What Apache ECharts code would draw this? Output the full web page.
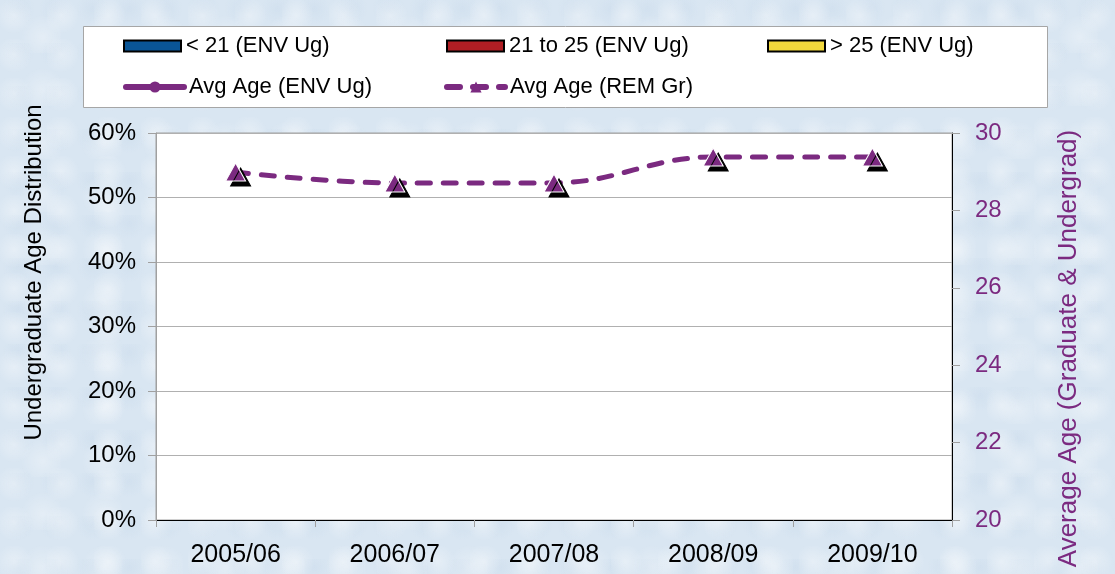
<!DOCTYPE html>
<html>
<head>
<meta charset="utf-8">
<title>Age Distribution</title>
<script src="https://cdn.jsdelivr.net/npm/echarts@6/dist/echarts.min.js"></script>
<style>
  html, body { margin: 0; padding: 0; }
  #chart {
    width: 1115px;
    height: 574px;
    background-color: #d9e6f2;
    background-image:
      radial-gradient(circle at 30% 40%, rgba(255,255,255,0.35) 0, rgba(255,255,255,0) 18px),
      radial-gradient(circle at 70% 70%, rgba(255,255,255,0.3) 0, rgba(255,255,255,0) 22px),
      radial-gradient(circle at 50% 20%, rgba(190,210,230,0.25) 0, rgba(190,210,230,0) 16px);
    background-size: 47px 39px, 61px 53px, 37px 43px;
  }
</style>
</head>
<body>
<div id="chart"></div>
<script>
  // data
  var years = ['2005/06', '2006/07', '2007/08', '2008/09', '2009/10'];
  var under21 = [null, null, null, null, null];     // < 21 (ENV Ug) - nothing drawn
  var from21to25 = [null, null, null, null, null];  // 21 to 25 (ENV Ug)
  var over25 = [null, null, null, null, null];      // > 25 (ENV Ug)
  var avgEnvUg = [null, null, null, null, null];    // Avg Age (ENV Ug)
  var avgRemGr = [28.99, 28.71, 28.71, 29.38, 29.38]; // Avg Age (REM Gr)

  var purple = '#7b2a80';
  var font = 'Liberation Sans, Arial, sans-serif';

  function barSeries(name, color, data) {
    return {
      name: name,
      type: 'bar',
      yAxisIndex: 0,
      data: data,
      itemStyle: { color: color, borderColor: '#000', borderWidth: 1 }
    };
  }

  // one legend per item so the columns line up like the original
  function legendAt(name, left, top, w, h, isLine) {
    var lg = {
      data: [name],
      left: left,
      top: top,
      padding: 0,
      itemWidth: w,
      itemHeight: h,
      textStyle: { fontFamily: font, fontSize: 22, color: '#000' },
      selectedMode: false
    };
    if (isLine) {
      lg.lineStyle = { width: 6, cap: 'round' };
      lg.itemStyle = { shadowColor: 'rgba(0,0,0,0)', borderWidth: 0 };
    } else {
      lg.icon = 'rect';
    }
    return lg;
  }

  var option = {
    animation: false,
    textStyle: { fontFamily: font },
    graphic: [{
      type: 'rect',
      shape: { x: 83.5, y: 26.5, width: 964, height: 81 },
      style: { fill: '#fff', stroke: '#a6a6a6', lineWidth: 1 },
      z: -1
    }],
    legend: [
      legendAt('< 21 (ENV Ug)', 123, 35, 57, 11, false),
      legendAt('21 to 25 (ENV Ug)', 446, 35, 57, 11, false),
      legendAt('> 25 (ENV Ug)', 767, 35, 57, 11, false),
      legendAt('Avg Age (ENV Ug)', 123, 76, 58, 14, true),
      legendAt('Avg Age (REM Gr)', 444, 76, 58, 14, true)
    ],
    grid: {
      left: 156,
      right: 163,
      top: 133,
      bottom: 54,
      show: true,
      backgroundColor: '#fff',
      borderColor: '#a0a0a0',
      borderWidth: 1
    },
    xAxis: {
      type: 'category',
      data: years,
      axisLine: { lineStyle: { color: '#000', width: 1 } },
      axisTick: { show: true, length: 7, lineStyle: { color: '#a0a0a0' } },
      axisLabel: { color: '#000', fontSize: 25, margin: 23, fontFamily: font }
    },
    yAxis: [
      {
        type: 'value',
        min: 0,
        max: 0.6,
        interval: 0.1,
        name: 'Undergraduate Age Distribution',
        nameLocation: 'middle',
        nameGap: 110,
        nameTextStyle: { color: '#000', fontSize: 24, fontFamily: font, padding: [0, 0, 0, 108] },
        axisLine: { show: true, lineStyle: { color: '#a0a0a0' } },
        axisTick: { show: true, length: 8, lineStyle: { color: '#a0a0a0' } },
        axisLabel: {
          color: '#000',
          fontSize: 24,
          margin: 20,
          fontFamily: font,
          formatter: function (v) { return Math.round(v * 100) + '%'; }
        },
        splitLine: { show: true, lineStyle: { color: '#b0b0b0', width: 1 } }
      },
      {
        type: 'value',
        min: 20,
        max: 30,
        interval: 2,
        position: 'right',
        name: 'Average Age (Graduate & Undergrad)',
        nameLocation: 'middle',
        nameGap: 104,
        nameRotate: 90,
        nameTextStyle: { color: purple, fontSize: 26, fontFamily: font, padding: [0, 44, 0, 0] },
        axisLine: { show: true, lineStyle: { color: '#000' } },
        axisTick: { show: true, length: 8, lineStyle: { color: '#a0a0a0' } },
        axisLabel: { color: purple, fontSize: 24, margin: 23, fontFamily: font },
        splitLine: { show: false }
      }
    ],
    series: [
      barSeries('< 21 (ENV Ug)', '#0a5596', under21),
      barSeries('21 to 25 (ENV Ug)', '#b01e24', from21to25),
      barSeries('> 25 (ENV Ug)', '#f2d83c', over25),
      {
        name: 'Avg Age (ENV Ug)',
        type: 'line',
        yAxisIndex: 1,
        data: avgEnvUg,
        symbol: 'circle',
        symbolSize: 12,
        lineStyle: { color: purple, width: 5 },
        itemStyle: { color: purple }
      },
      {
        name: 'Avg Age (REM Gr)',
        type: 'line',
        yAxisIndex: 1,
        data: avgRemGr,
        smooth: 0.4,
        symbol: 'triangle',
        symbolSize: [20, 18],
        lineStyle: { color: purple, width: 5, type: [13, 13], cap: 'round' },
        itemStyle: {
          color: purple,
          borderColor: '#fff',
          borderWidth: 1,
          shadowColor: '#000',
          shadowBlur: 0,
          shadowOffsetX: 5,
          shadowOffsetY: 5
        }
      }
    ]
  };

  var chart = echarts.init(document.getElementById('chart'));
  chart.setOption(option);
</script>
</body>
</html>
